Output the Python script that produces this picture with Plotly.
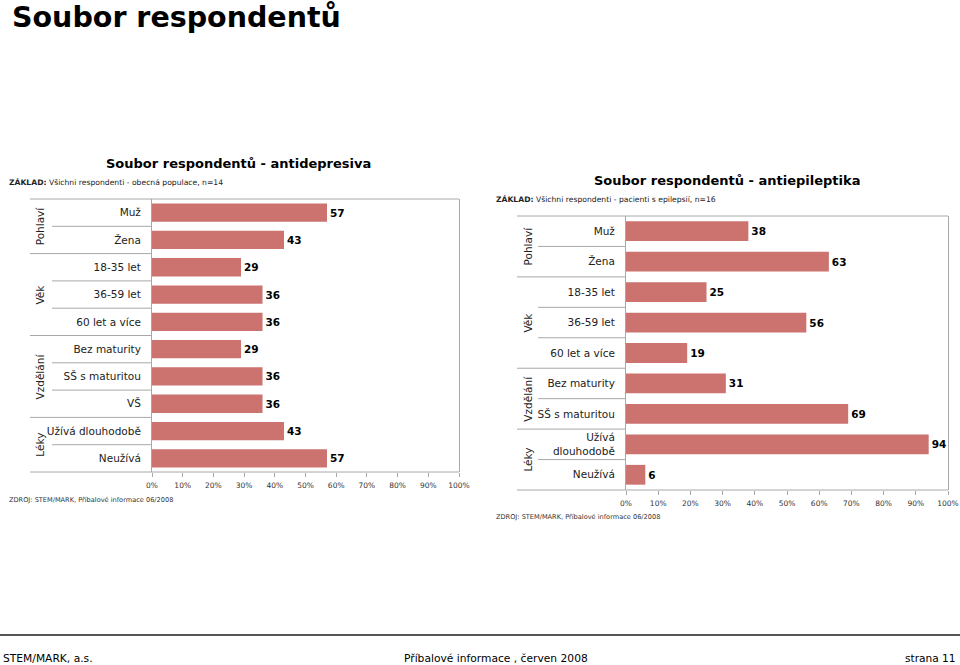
import plotly.graph_objects as go

# ---------------- data ----------------
left_categories = ["Muž", "Žena", "18-35 let", "36-59 let", "60 let a více",
                   "Bez maturity", "SŠ s maturitou", "VŠ", "Užívá dlouhodobě", "Neužívá"]
left_values = [57, 43, 29, 36, 36, 29, 36, 36, 43, 57]
left_groups = ["Pohlaví", "Věk", "Vzdělání", "Léky"]
left_group_sizes = [2, 3, 3, 2]

right_categories = ["Muž", "Žena", "18-35 let", "36-59 let", "60 let a více",
                    "Bez maturity", "SŠ s maturitou", "Užívá<br>dlouhodobě", "Neužívá"]
right_values = [38, 63, 25, 56, 19, 31, 69, 94, 6]
right_groups = ["Pohlaví", "Věk", "Vzdělání", "Léky"]
right_group_sizes = [2, 3, 2, 2]

x_ticks = [0, 10, 20, 30, 40, 50, 60, 70, 80, 90, 100]
x_tick_labels = ["0%", "10%", "20%", "30%", "40%", "50%", "60%", "70%", "80%", "90%", "100%"]

page_title = "Soubor respondentů"
left_title = "Soubor respondentů - antidepresiva"
right_title = "Soubor respondentů - antiepileptika"
left_base = "<b>ZÁKLAD:</b> Všichni respondenti - obecná populace, n=14"
right_base = "<b>ZÁKLAD:</b> Všichni respondenti - pacienti s epilepsií, n=16"
source_text = "ZDROJ: STEM/MARK, Příbalové informace 06/2008"
footer_left = "STEM/MARK, a.s."
footer_mid = "Příbalové informace , červen 2008"
footer_right = "strana 11"

# ---------------- style ----------------
W, H = 960, 665
FONT = "DejaVu Sans"
BAR = "#CC726F"
LINE = "#A8A8A8"


def px(x):
    return x / W


def py(y):
    return 1 - y / H


fig = go.Figure()

panels = [
    dict(cats=left_categories, vals=left_values, groups=left_groups, sizes=left_group_sizes,
         xa="x", ya="y", x0=152, x1=459, y0=199, y1=472, lg=30, lw=52, glx=40, gap=0.33),
    dict(cats=right_categories, vals=right_values, groups=right_groups, sizes=right_group_sizes,
         xa="x2", ya="y2", x0=626, x1=948, y0=216, y1=490, lg=517, lw=538, glx=528, gap=0.35),
]

shapes = []
annotations = []

for i, p in enumerate(panels):
    fig.add_trace(go.Bar(
        x=p["vals"], y=p["cats"], orientation="h",
        marker=dict(color=BAR, line=dict(width=0)),
        text=[str(v) for v in p["vals"]], textposition="outside",
        textfont=dict(family=FONT, size=10.5, color="#000000", weight="bold"),
        cliponaxis=False, xaxis=p["xa"], yaxis=p["ya"], width=1 - p["gap"],
        hoverinfo="skip", showlegend=False,
    ))
    n = len(p["cats"])
    sfx = "" if i == 0 else "2"
    fig.update_layout(**{
        "xaxis" + sfx: dict(
            domain=[px(p["x0"]), px(p["x1"])], anchor="y" + sfx, range=[0, 100],
            tickmode="array", tickvals=x_ticks, ticktext=x_tick_labels,
            ticks="outside", ticklen=4, automargin=False,
            tickcolor=LINE, showgrid=False, zeroline=False, showline=False,
            tickfont=dict(family=FONT, size=7.5, color="#333333"),
            ticklabelstandoff=2, fixedrange=True,
        ),
        "yaxis" + sfx: dict(
            domain=[py(p["y1"]), py(p["y0"])], anchor="x" + sfx,
            type="category", categoryorder="array", categoryarray=p["cats"],
            range=[n - 0.5, -0.5], showline=True, mirror=True, linecolor=LINE,
            linewidth=1, ticks="", showgrid=False, zeroline=False, automargin=False,
            tickfont=dict(family=FONT, size=10.5, color="#222222"),
            ticklabelstandoff=8, fixedrange=True,
        ),
    })
    # top and bottom frame lines extended to the left
    for yy in (p["y0"], p["y1"]):
        shapes.append(dict(type="line", xref="paper", yref="paper",
                           x0=px(p["lg"]), x1=px(p["x1"]), y0=py(yy), y1=py(yy),
                           line=dict(color=LINE, width=1)))
    # separators
    idx = 0
    for gi, (g, s) in enumerate(zip(p["groups"], p["sizes"])):
        for k in range(s - 1):
            yv = idx + k + 0.5
            shapes.append(dict(type="line", xref="paper", yref=p["ya"],
                               x0=px(p["lw"]), x1=px(p["x0"]), y0=yv, y1=yv,
                               line=dict(color=LINE, width=1)))
        if gi < len(p["groups"]) - 1:
            yv = idx + s - 0.5
            shapes.append(dict(type="line", xref="paper", yref=p["ya"],
                               x0=px(p["lg"]), x1=px(p["x0"]), y0=yv, y1=yv,
                               line=dict(color=LINE, width=1)))
        annotations.append(dict(text=g, xref="paper", yref=p["ya"], x=px(p["glx"]),
                                y=idx + (s - 1) / 2, textangle=-90, showarrow=False,
                                xanchor="center", yanchor="middle",
                                font=dict(family=FONT, size=10.5, color="#222222")))
        idx += s

# footer line
shapes.append(dict(type="line", xref="paper", yref="paper", x0=0, x1=1,
                   y0=py(635), y1=py(635), line=dict(color="#555555", width=2)))


def txt(t, x, y, size, xanchor="left", bold=False, color="#000000"):
    annotations.append(dict(text=t, xref="paper", yref="paper", x=px(x), y=py(y),
                            xanchor=xanchor, yanchor="middle", showarrow=False,
                            font=dict(family=FONT, size=size, color=color,
                                      weight="bold" if bold else "normal")))


txt(page_title, 10, 17, 28.5, bold=True)
txt(left_title, 238.5, 163, 13, xanchor="center", bold=True)
txt(right_title, 726.5, 181, 13, xanchor="center", bold=True)
txt(left_base, 7, 182, 7.65, color="#222222")
txt(right_base, 494, 199, 7.65, color="#222222")
txt(source_text, 7, 500, 6.6, color="#333333")
txt(source_text, 494, 517, 6.6, color="#333333")
txt(footer_left, 1, 658, 10.7)
txt(footer_mid, 496, 658, 10.7, xanchor="center")
txt(footer_right, 958, 658, 10.6, xanchor="right")

fig.update_layout(
    width=W, height=H, autosize=False,
    margin=dict(l=0, r=0, t=0, b=0, pad=0, autoexpand=False),
    paper_bgcolor="white", plot_bgcolor="white",
    shapes=shapes, annotations=annotations,
    font=dict(family=FONT),
)

post = (
    "document.documentElement.style.margin='0';"
    "document.documentElement.style.padding='0';"
    "document.documentElement.style.overflow='hidden';"
    "document.body.style.margin='0';document.body.style.padding='0';"
    "document.body.style.overflow='hidden';"
    "var d=document.getElementById('{plot_id}');"
    "d.style.position='fixed';d.style.left='0px';d.style.top='0px';"
)

fig.write_html(
    "out.html",
    config={"displayModeBar": False, "responsive": False, "staticPlot": True},
    post_script=post,
)
